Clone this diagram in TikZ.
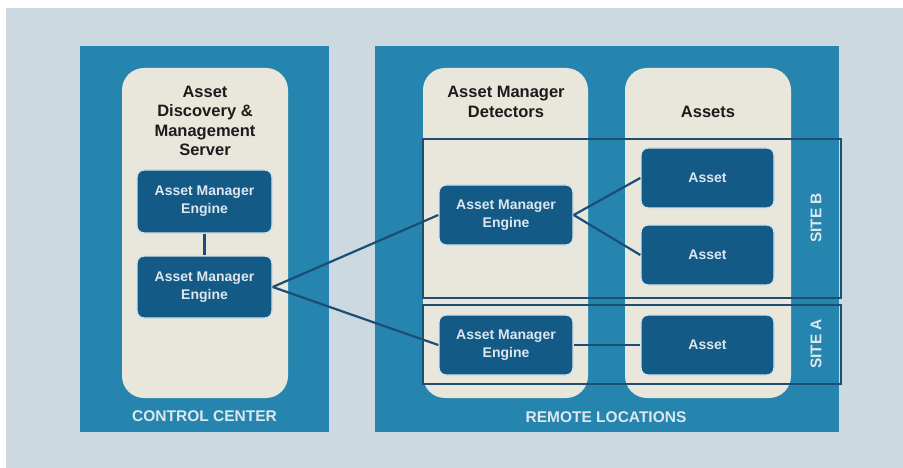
\documentclass[tikz,border=0pt]{standalone}
\usepackage{fontspec}
\setmainfont{Liberation Sans}
\definecolor{bgc}{HTML}{CDD9E1}
\definecolor{panelc}{HTML}{2585AE}
\definecolor{beigec}{HTML}{E9E6DC}
\definecolor{boxc}{HTML}{145A87}
\definecolor{boxedge}{HTML}{D3E3EC}
\definecolor{linec}{HTML}{1B4E76}
\definecolor{sitec}{HTML}{1D4F73}
\definecolor{lighttext}{HTML}{DCE7EF}
\definecolor{darktext}{HTML}{1C1C1C}
\tikzset{
  engbox/.style={fill=boxc, draw=boxedge, line width=1.4pt, rounded corners=7pt,
    text=lighttext, align=center, font=\fontsize{14}{18}\selectfont\bfseries,
    inner sep=0pt},
  titletext/.style={text=darktext, align=center, font=\fontsize{16.5}{19.5}\selectfont\bfseries, inner sep=0pt},
  labeltext/.style={text=lighttext, font=\fontsize{15.5}{18}\selectfont\bfseries, inner sep=0pt},
  sitebox/.style={draw=sitec, line width=2.6pt, fill=none},
  conn/.style={draw=linec, line width=2.2pt},
}
\begin{document}
\begin{tikzpicture}[x=1pt,y=-1pt]
\useasboundingbox (0,0) rectangle (903,468);
\fill[white] (0,0) rectangle (903,468);
\fill[bgc] (6,8) rectangle (903,468);
% panels
\fill[panelc] (80,46) rectangle (329,432);
\fill[panelc] (375,46) rectangle (839,432);
% columns
\fill[beigec, rounded corners=22pt] (122,68) rectangle (288,398);
\fill[beigec, rounded corners=22pt] (423,68) rectangle (588,398);
\fill[beigec, rounded corners=22pt] (625,68) rectangle (791,398);
% site rectangles
\draw[sitebox] (423,139) rectangle (841,298);
\draw[sitebox] (423,305) rectangle (841,384);
% titles
\node[titletext] (t1) at (205,121) {Asset\\Discovery \&\\Management\\Server};
\node[titletext] (t2) at (506,102) {Asset Manager\\Detectors};
\node[titletext] (t3) at (708,112) {Assets};
% bottom labels
\node[labeltext] (cc) at (204.5,416) {CONTROL CENTER};
\node[labeltext] (rl) at (606,417) {REMOTE LOCATIONS};
\node[labeltext, rotate=90] (sb) at (816,218) {SITE B};
\node[labeltext, rotate=90] (sa) at (816,344) {SITE A};
% engine boxes
\node[engbox, minimum width=135pt, minimum height=63pt] (L1) at (204.5,201.5) {Asset Manager\\Engine};
\node[engbox, minimum width=135pt, minimum height=62pt] (L2) at (204.5,287) {Asset Manager\\Engine};
\node[engbox, minimum width=134pt, minimum height=60pt] (R1) at (506,215) {Asset Manager\\Engine};
\node[engbox, minimum width=134pt, minimum height=60pt] (R2) at (506,345) {Asset Manager\\Engine};
\node[engbox, minimum width=133pt, minimum height=60pt] (A1) at (707.5,178) {Asset};
\node[engbox, minimum width=133pt, minimum height=60pt] (A2) at (707.5,255) {Asset};
\node[engbox, minimum width=133pt, minimum height=60pt] (A3) at (707.5,345) {Asset};
% connectors
\draw[conn] (L1.south) -- (L2.north);
\draw[conn] (L2.east) -- (R1.west);
\draw[conn] (L2.east) -- (R2.west);
\draw[conn] (R1.east) -- (A1.west);
\draw[conn] (R1.east) -- (A2.west);
\draw[conn] (R2.east) -- (A3.west);
\end{tikzpicture}
\end{document}
